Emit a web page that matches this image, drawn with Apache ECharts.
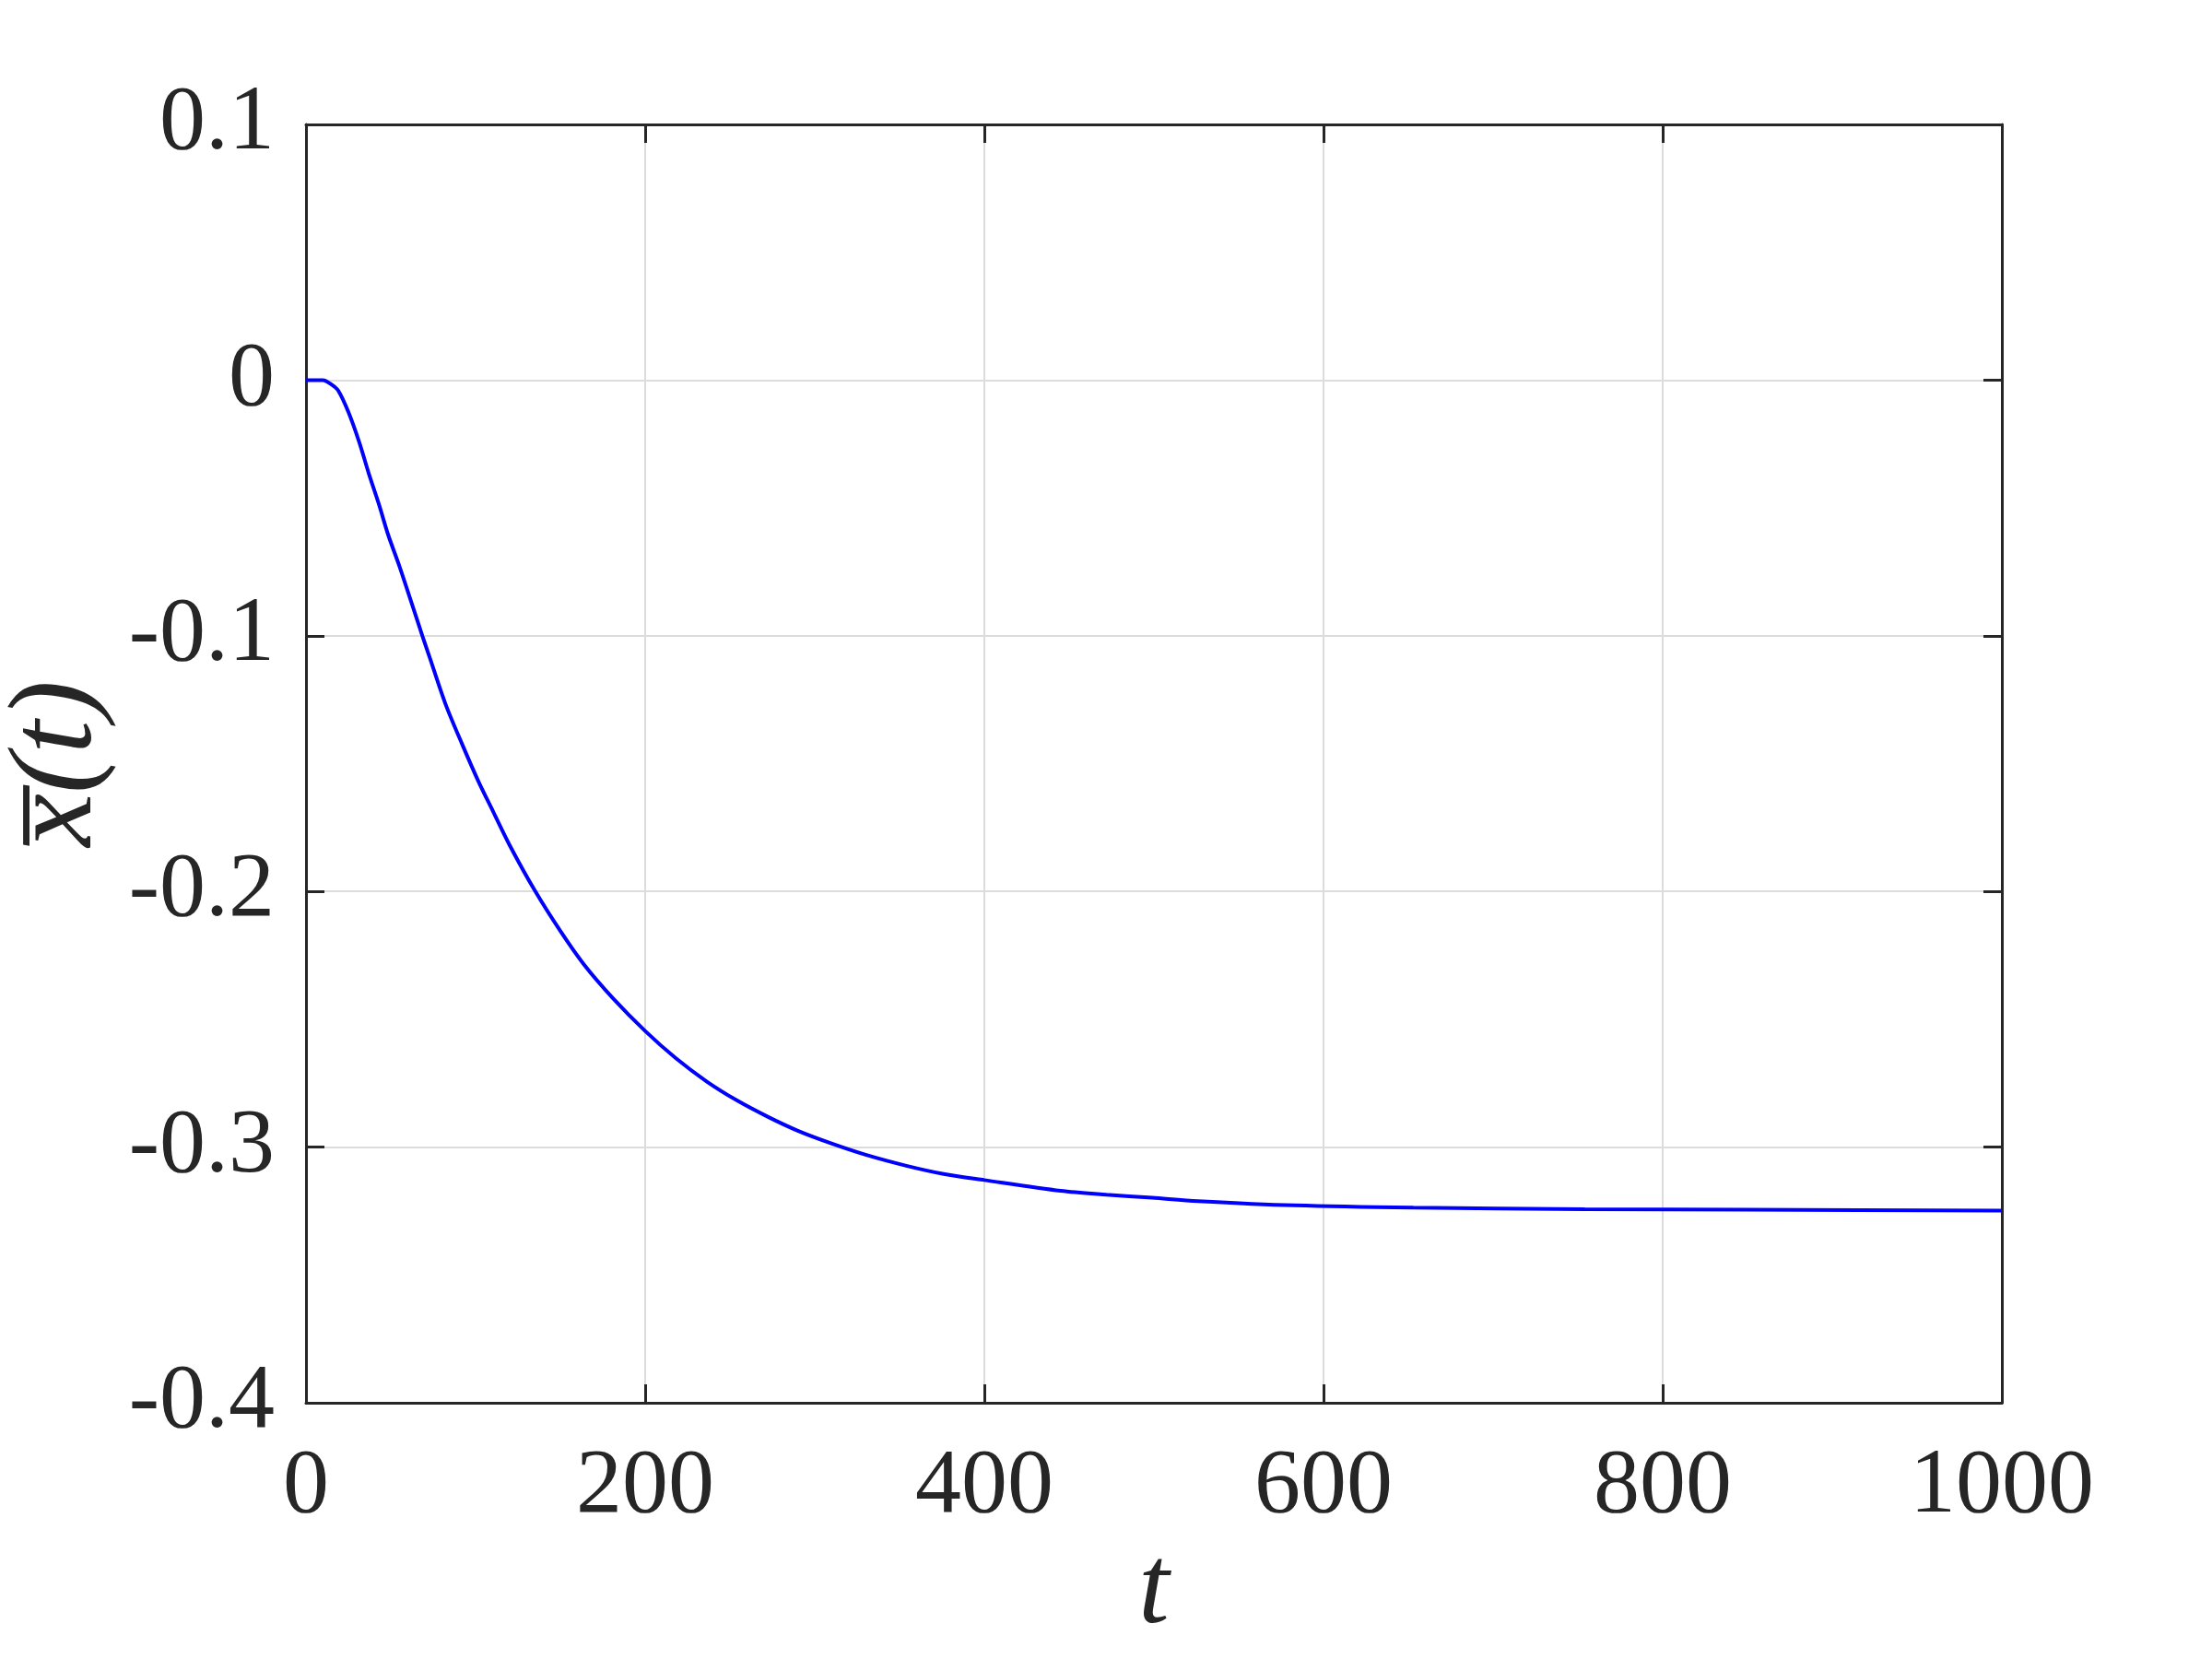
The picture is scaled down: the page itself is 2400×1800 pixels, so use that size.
<!DOCTYPE html>
<html>
<head>
<meta charset="utf-8">
<script src="https://cdn.jsdelivr.net/npm/echarts@6/dist/echarts.min.js"></script>
<style>
html,body{margin:0;padding:0;background:#fff;}
#chart{width:2400px;height:1800px;}
</style>
</head>
<body>
<div id="chart"></div>
<script>
// Data
const tValues = [0, 5, 10, 15, 19, 25, 31.5, 37, 43, 48.5, 55, 61, 68.7, 73, 82.2, 92, 101.5, 110.3, 120, 134.8, 150, 163.8, 181, 200, 218, 236.2, 254, 272.5, 290, 308.7, 330, 354, 376, 400, 445, 472, 499, 526, 583, 653, 754, 850, 1000];
const xbarValues = [0, 0, 0, -0.0017, -0.0041, -0.0125, -0.0245, -0.0365, -0.0486, -0.0606, -0.0726, -0.0846, -0.1002, -0.1086, -0.1266, -0.1423, -0.1567, -0.1687, -0.1818, -0.1995, -0.2155, -0.2285, -0.2418, -0.2546, -0.2652, -0.2743, -0.2817, -0.2882, -0.2936, -0.2983, -0.3030, -0.3073, -0.3105, -0.3129, -0.3171, -0.3186, -0.3198, -0.3211, -0.3228, -0.3237, -0.3243, -0.3245, -0.3248];
const xTicks = [0, 200, 400, 600, 800, 1000];
const yTicks = [-0.4, -0.3, -0.2, -0.1, 0, 0.1];

const seriesData = tValues.map((t, i) => [t, xbarValues[i]]);
const ink = '#262626';
const fontFam = 'Liberation Serif';
const fmtY = v => { const r = Math.round(v * 10) / 10; return r === 0 ? '0' : String(r); };
const fmtX = v => String(Math.round(v));

const chart = echarts.init(document.getElementById('chart'), null, {renderer: 'canvas'});
chart.setOption({
  backgroundColor: '#ffffff',
  animation: false,
  grid: {left: 332, right: 228, top: 135, bottom: 278, show: false, containLabel: false, outerBoundsMode: 'none'},
  xAxis: [{
    type: 'value', min: xTicks[0], max: xTicks[xTicks.length - 1], interval: 200,
    name: 't', nameLocation: 'middle', nameGap: 130,
    nameTextStyle: {fontFamily: fontFam, fontStyle: 'italic', fontSize: 120, color: ink},
    axisLine: {show: true, onZero: false, lineStyle: {color: ink, width: 3}},
    axisTick: {show: true, inside: true, length: 20, lineStyle: {color: ink, width: 3}},
    axisLabel: {show: true, margin: 42, fontFamily: fontFam, fontSize: 100, color: ink, formatter: fmtX},
    splitLine: {show: true, lineStyle: {color: '#dcdcdc', width: 2}}
  }, {
    type: 'value', position: 'top', min: 0, max: 1000, interval: 200,
    axisLine: {show: true, onZero: false, lineStyle: {color: ink, width: 3}},
    axisTick: {show: true, inside: true, length: 20, lineStyle: {color: ink, width: 3}},
    axisLabel: {show: false}, splitLine: {show: false}
  }],
  yAxis: [{
    type: 'value', min: yTicks[0], max: yTicks[yTicks.length - 1], interval: 0.1,
    name: 'x\u0305(t)', nameLocation: 'middle', nameGap: 200, nameRotate: 90,
    nameTextStyle: {fontFamily: fontFam, fontStyle: 'italic', fontSize: 130, color: ink},
    axisLine: {show: true, onZero: false, lineStyle: {color: ink, width: 3}},
    axisTick: {show: true, inside: true, length: 20, lineStyle: {color: ink, width: 3}},
    axisLabel: {show: true, margin: 34, fontFamily: fontFam, fontSize: 100, color: ink, formatter: fmtY, padding: [12, 0, 0, 0]},
    splitLine: {show: true, lineStyle: {color: '#dcdcdc', width: 2}}
  }, {
    type: 'value', position: 'right', min: -0.4, max: 0.1, interval: 0.1,
    axisLine: {show: true, onZero: false, lineStyle: {color: ink, width: 3}},
    axisTick: {show: true, inside: true, length: 20, lineStyle: {color: ink, width: 3}},
    axisLabel: {show: false}, splitLine: {show: false}
  }],
  series: [{
    type: 'line', xAxisIndex: 0, yAxisIndex: 0,
    data: seriesData, smooth: 0.3, showSymbol: false, symbol: 'none',
    lineStyle: {color: '#0000ff', width: 4}, z: 5
  }]
});
</script>
</body>
</html>
